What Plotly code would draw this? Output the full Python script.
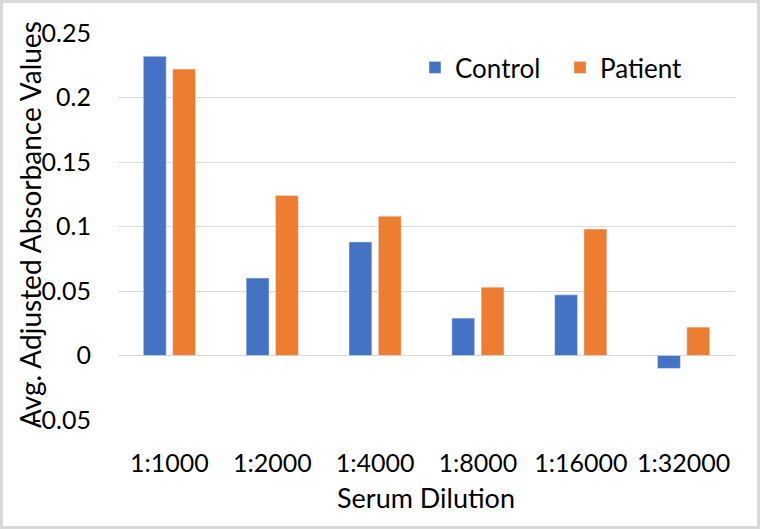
import plotly.graph_objects as go

categories = ["1:1000", "1:2000", "1:4000", "1:8000", "1:16000", "1:32000"]
control = [0.232, 0.060, 0.088, 0.029, 0.047, -0.010]
patient = [0.222, 0.124, 0.108, 0.053, 0.098, 0.022]
y_tickvals = [0.25, 0.2, 0.15, 0.1, 0.05, 0, -0.05]
y_ticktext = ["0.25", "0.2", "0.15", "0.1", "0.05", "0", "-0.05"]

FONT = "Lato, Calibri, Carlito, sans-serif"
FS = 25

fig = go.Figure()
fig.add_trace(go.Bar(name="Control", x=categories, y=control, marker_color="#4472C4",
                     legend="legend"))
fig.add_trace(go.Bar(name="Patient", x=categories, y=patient, marker_color="#ED7D31",
                     legend="legend2"))

L, R, T, B = 118, 25, 33, 109
W, H = 760, 529
pw, ph = W - L - R, H - T - B

def px_x(p):
    return (p - L) / pw

def px_y(p):
    return (H - B - p) / ph

leg_common = dict(orientation="h", xanchor="left", yanchor="top",
                  font=dict(size=26), bgcolor="rgba(0,0,0,0)", itemwidth=30)

fig.update_layout(
    width=W, height=H,
    margin=dict(l=L, r=R, t=T, b=B, autoexpand=False),
    paper_bgcolor="white", plot_bgcolor="white",
    barmode="group", bargap=0.43, bargroupgap=0.22,
    font=dict(family=FONT, size=FS, color="black"),
    showlegend=True,
    legend=dict(x=px_x(415), y=px_y(44), **leg_common),
    legend2=dict(x=px_x(560), y=px_y(44), **leg_common),
    xaxis=dict(showgrid=False, showline=False, ticks="", ticklabelstandoff=26,
               tickfont=dict(size=FS), automargin=False, tickangle=0),
    yaxis=dict(range=[-0.05, 0.25], tickvals=y_tickvals, ticktext=y_ticktext,
               showgrid=True, gridcolor="#d9d9d9", gridwidth=1,
               zeroline=True, zerolinecolor="#d9d9d9", zerolinewidth=1,
               showline=False, ticks="", ticklabelstandoff=26,
               tickfont=dict(size=FS), automargin=False),
)

fig.add_annotation(text="Avg. Adjusted Absorbance Values", xref="paper", yref="paper",
                   x=px_x(30), y=px_y(225), textangle=-90, showarrow=False,
                   xanchor="center", yanchor="middle", font=dict(size=28))
fig.add_annotation(text="Serum Dilution", xref="paper", yref="paper",
                   x=px_x(426), y=px_y(497), showarrow=False,
                   xanchor="center", yanchor="middle", font=dict(size=27))

# chart frame border (light gray, rounded)
fig.add_shape(type="rect", xref="paper", yref="paper",
              x0=px_x(1.5), x1=px_x(W - 1.5), y0=px_y(H - 1.5), y1=px_y(1.5),
              line=dict(color="#d9d9d9", width=3), fillcolor="rgba(0,0,0,0)", layer="below")

fig.write_html("out.html", config={"displayModeBar": False},
               post_script="document.body.style.margin='0';")
